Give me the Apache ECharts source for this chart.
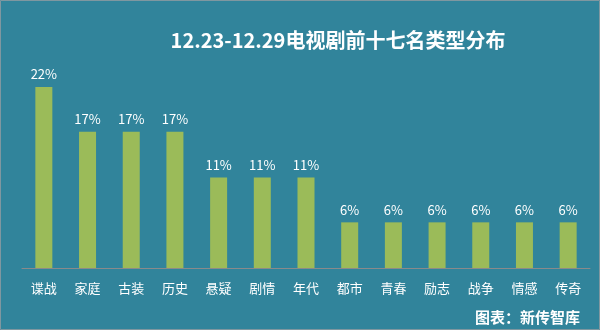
<!DOCTYPE html>
<html><head><meta charset="utf-8">
<script src="https://cdn.jsdelivr.net/npm/echarts@6/dist/echarts.min.js"></script>
<style>html,body{margin:0;padding:0;background:#31849b}#c{width:600px;height:330px}</style>
</head><body><div id="c"></div>
<script>
const categories = ['谍战','家庭','古装','历史','悬疑','剧情','年代','都市','青春','励志','战争','情感','传奇'];
const values = [22.2,16.7,16.7,16.7,11.1,11.1,11.1,5.6,5.6,5.6,5.6,5.6,5.6];
const titleText = '12.23-12.29电视剧前十七名类型分布';
const sourceText = '图表：新传智库';
const font = '"Noto Sans CJK SC", "Noto Sans", sans-serif';
const chart = echarts.init(document.getElementById('c'));
chart.setOption({
  backgroundColor: '#31849b',
  animation: false,
  graphic: [{type: 'rect', silent: true, shape: {x: 0.5, y: 0.5, width: 599, height: 329},
    style: {fill: null, stroke: '#7f97a0', lineWidth: 1}}],
  title: [
    {text: titleText, left: 333, top: 25, textAlign: 'center',
     textStyle: {color: '#fff', fontSize: 20, fontWeight: 'bold', fontFamily: font}},
    {text: sourceText, right: 15, top: 305,
     textStyle: {color: '#fff', fontSize: 15, fontWeight: 'bold', fontFamily: font}}
  ],
  grid: {left: 22, right: 10, top: 87, bottom: 62},
  xAxis: {
    type: 'category', data: categories,
    axisLine: {lineStyle: {color: '#8a8a8a', width: 1}},
    axisTick: {show: false},
    axisLabel: {color: '#fff', fontSize: 13, margin: 14, fontFamily: font, interval: 0}
  },
  yAxis: {type: 'value', min: 0, max: 22.2, show: false, splitLine: {show: false}},
  series: [{
    type: 'bar', data: values, barWidth: 17,
    itemStyle: {color: '#9bbb59'},
    label: {show: true, position: 'top', distance: 6, color: '#fff', fontSize: 13,
      fontFamily: font, formatter: p => Math.round(p.value) + '%'}
  }]
});
</script></body></html>
